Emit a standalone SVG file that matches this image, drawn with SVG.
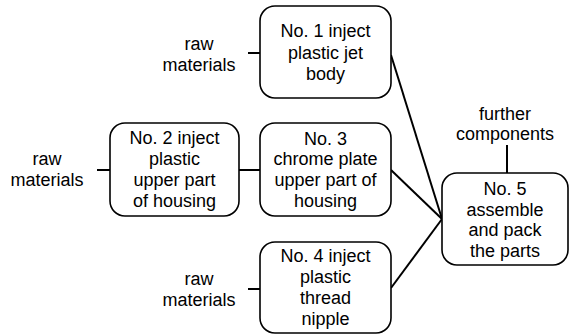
<svg xmlns="http://www.w3.org/2000/svg" width="570" height="336" viewBox="0 0 570 336">
<style>
.box{fill:#fff;stroke:#000;stroke-width:1.6}
.t{font-family:"Liberation Sans",Arial,sans-serif;font-size:18px;fill:#000;text-anchor:middle}
.c{stroke:#000;stroke-width:2;fill:none}
</style>
<rect width="570" height="336" fill="#fff"/>
<g id="connectors">
<line class="c" x1="248" y1="53" x2="260" y2="53"/>
<line class="c" x1="97" y1="170" x2="110" y2="170"/>
<line class="c" x1="239" y1="170" x2="260" y2="170"/>
<line class="c" x1="248" y1="289" x2="260" y2="289"/>
<line class="c" x1="507" y1="145" x2="507" y2="173"/>
<line class="c" x1="391" y1="55" x2="442" y2="219"/>
<line class="c" x1="391" y1="170" x2="442" y2="219"/>
<line class="c" x1="391" y1="288" x2="442" y2="219"/>
</g>
<g id="raw1"><text class="t" x="199" y="50">raw</text><text class="t" x="199" y="71">materials</text></g>
<g id="raw2"><text class="t" x="47" y="165">raw</text><text class="t" x="47" y="186">materials</text></g>
<g id="raw3"><text class="t" x="199" y="285">raw</text><text class="t" x="199" y="306">materials</text></g>
<g id="further"><text class="t" x="505" y="120">further</text><text class="t" x="505" y="140">components</text></g>
<g id="n1"><rect class="box" x="260" y="6" width="131" height="92" rx="15"/>
<text class="t" x="325.5" y="37">No. 1 inject</text><text class="t" x="325.5" y="58.5">plastic jet</text><text class="t" x="325.5" y="80">body</text></g>
<g id="n2"><rect class="box" x="110" y="123" width="129" height="93" rx="15"/>
<text class="t" x="174.5" y="144">No. 2 inject</text><text class="t" x="174.5" y="165">plastic</text><text class="t" x="174.5" y="186">upper part</text><text class="t" x="174.5" y="206.5">of housing</text></g>
<g id="n3"><rect class="box" x="260" y="123" width="131" height="93" rx="15"/>
<text class="t" x="325.5" y="144.5">No. 3</text><text class="t" x="325.5" y="165">chrome plate</text><text class="t" x="325.5" y="186">upper part of</text><text class="t" x="325.5" y="206.5">housing</text></g>
<g id="n4"><rect class="box" x="260" y="242" width="131" height="91" rx="15"/>
<text class="t" x="325.5" y="262">No. 4 inject</text><text class="t" x="325.5" y="283">plastic</text><text class="t" x="325.5" y="304">thread</text><text class="t" x="325.5" y="324.5">nipple</text></g>
<g id="n5"><rect class="box" x="442" y="173" width="126" height="92" rx="15"/>
<text class="t" x="505" y="195">No. 5</text><text class="t" x="505" y="215.5">assemble</text><text class="t" x="505" y="236">and pack</text><text class="t" x="505" y="257">the parts</text></g>
</svg>
